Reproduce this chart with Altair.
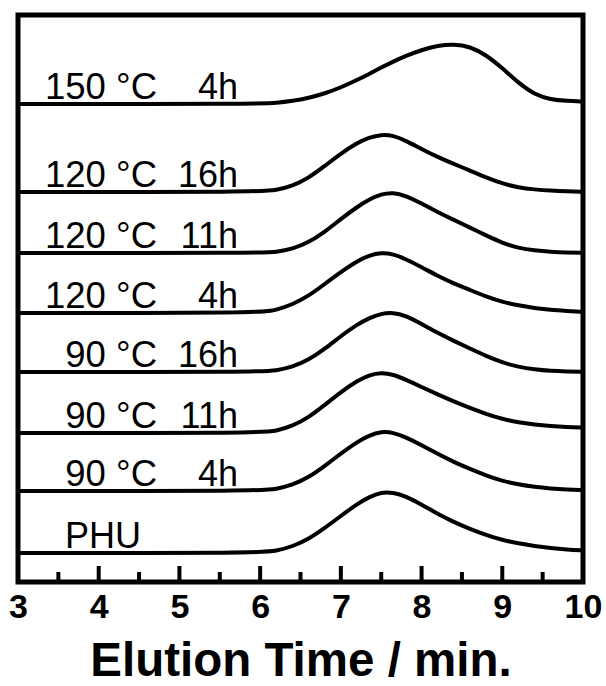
import altair as alt
import pandas as pd

# Elution time grid (min)
elution = [3.0, 6.0, 6.2, 6.4, 6.6, 6.8, 7.0, 7.2, 7.35, 7.5, 7.65, 7.8,
           8.0, 8.2, 8.4, 8.6, 8.8, 9.0, 9.2, 9.4, 9.6, 9.8, 10.0]

# Trace names (bottom to top), their labels and vertical offsets
series = ["PHU", "90 °C 4h", "90 °C 11h", "90 °C 16h",
          "120 °C 4h", "120 °C 11h", "120 °C 16h", "150 °C 4h"]
temps = ["PHU", "90 °C", "90 °C", "90 °C", "120 °C", "120 °C", "120 °C", "150 °C"]
times = ["", "4h", "11h", "16h", "4h", "11h", "16h", "4h"]
offsets = [29, 91, 149, 210, 269, 329, 390, 478]

# Detector signal (relative) for each trace
sig_phu = [0, 0, 2, 6.5, 14, 25, 37, 49, 56, 61, 60.5, 57, 48.5, 39, 31, 24, 18, 13, 9.5, 7, 5, 3.5, 2.5]
sig_90_4 = [0, 0, 2, 6, 13.5, 25, 37.5, 49, 55.5, 59.5, 58.5, 54, 46, 37, 29, 22, 15.5, 10, 6.5, 4, 2.5, 1.5, 1]
sig_90_11 = [0, 0, 2, 7, 15.5, 28, 41, 52, 58, 60.5, 58.5, 53.5, 46, 38.5, 31.5, 25, 19, 14, 10.5, 8.5, 7, 6, 5.5]
sig_90_16 = [0, 0, 1.5, 5, 12, 23, 36, 47.5, 54, 58.5, 59.5, 56.5, 48, 39, 31, 23.5, 16, 9.5, 5, 2.5, 1, 0.5, 0.3]
sig_120_4 = [0, 0, 3, 8.5, 17, 29, 41, 52, 57.5, 60.5, 59, 54, 46, 37, 29.5, 23, 16.5, 11, 7.5, 5, 3, 2, 1]
sig_120_11 = [0, 0, 1, 4, 10.5, 21, 34, 46, 53.5, 59, 60.5, 57.5, 49.5, 41, 33, 25.5, 17.5, 10, 5, 2.5, 1.2, 0.5, 0.2]
sig_120_16 = [0, 0, 2, 6, 14, 26, 38.5, 49, 54.5, 57.5, 56.5, 51.5, 43, 35, 28, 21.5, 14.5, 8.5, 4.5, 2.5, 1.3, 0.6, 0.3]
sig_150_4 = [0, 0, 1, 3, 6, 10.5, 16.5, 24, 30, 36.5, 42.5, 48, 54, 58.5, 60, 57.5, 49, 36, 21, 9.5, 4.5, 3, 2.5]

signals = [sig_phu, sig_90_4, sig_90_11, sig_90_16,
           sig_120_4, sig_120_11, sig_120_16, sig_150_4]

x_labels = [3, 4, 5, 6, 7, 8, 9, 10]
major_ticks = [4, 5, 6, 7, 8, 9]
minor_ticks = [3.5, 4.5, 5.5, 6.5, 7.5, 8.5, 9.5]

W, H = 565, 567
FONT = "Liberation Sans"

rows = []
for name, off, sig in zip(series, offsets, signals):
    for t, v in zip(elution, sig):
        rows.append({"t": t, "y": off + v, "series": name})
df = pd.DataFrame(rows)

lab = pd.DataFrame({"temp": temps, "time": times, "off": offsets, "series": series})
lab_main = lab[lab["series"] != "PHU"]
lab_phu = lab[lab["series"] == "PHU"]

xs = alt.Scale(domain=[3, 10], nice=False, zero=False)
ys = alt.Scale(domain=[0, H], nice=False, zero=False)

xaxis = alt.Axis(values=x_labels, format="d", ticks=False, tickSize=0, domain=False, grid=False,
                 labelFont=FONT, labelFontSize=34, labelFontWeight="bold",
                 labelColor="black", labelPadding=8, labelFlush=False,
                 title="Elution Time / min.", titleFont=FONT, titleFontSize=47.5,
                 titleFontWeight="bold", titleColor="black", titlePadding=13)

lines = alt.Chart(df).mark_line(color="black", strokeWidth=4, interpolate="basis").encode(
    x=alt.X("t:Q", scale=xs, axis=xaxis),
    y=alt.Y("y:Q", scale=ys, axis=None),
    detail="series:N",
)

major = alt.Chart(pd.DataFrame({"t": major_ticks})).mark_rule(color="black", strokeWidth=4).encode(
    x=alt.X("t:Q", scale=xs),
    y=alt.value(H), y2=alt.value(H - 16),
)
minor = alt.Chart(pd.DataFrame({"t": minor_ticks})).mark_rule(color="black", strokeWidth=4).encode(
    x=alt.X("t:Q", scale=xs),
    y=alt.value(H), y2=alt.value(H - 10),
)

txt_temp = alt.Chart(lab_main).mark_text(
    font=FONT, fontSize=36.5, color="black", align="right", baseline="alphabetic", dy=-5
).encode(x=alt.value(139), y=alt.Y("off:Q", scale=ys), text="temp:N")

txt_time = alt.Chart(lab_main).mark_text(
    font=FONT, fontSize=36, color="black", align="right", baseline="alphabetic", dy=-5
).encode(x=alt.value(220), y=alt.Y("off:Q", scale=ys), text="time:N")

txt_phu = alt.Chart(lab_phu).mark_text(
    font=FONT, fontSize=36, color="black", align="left", baseline="alphabetic", dy=-5
).encode(x=alt.value(47), y=alt.Y("off:Q", scale=ys), text="temp:N")

chart = alt.layer(lines, major, minor, txt_temp, txt_time, txt_phu).properties(
    width=W, height=H,
    autosize=alt.AutoSizeParams(type="none"),
    padding={"left": 18, "top": 15, "right": 23, "bottom": 104},
    background="white",
).configure_view(stroke="black", strokeWidth=5)

chart.save("out.html", embed_options={"renderer": "svg", "actions": False})
